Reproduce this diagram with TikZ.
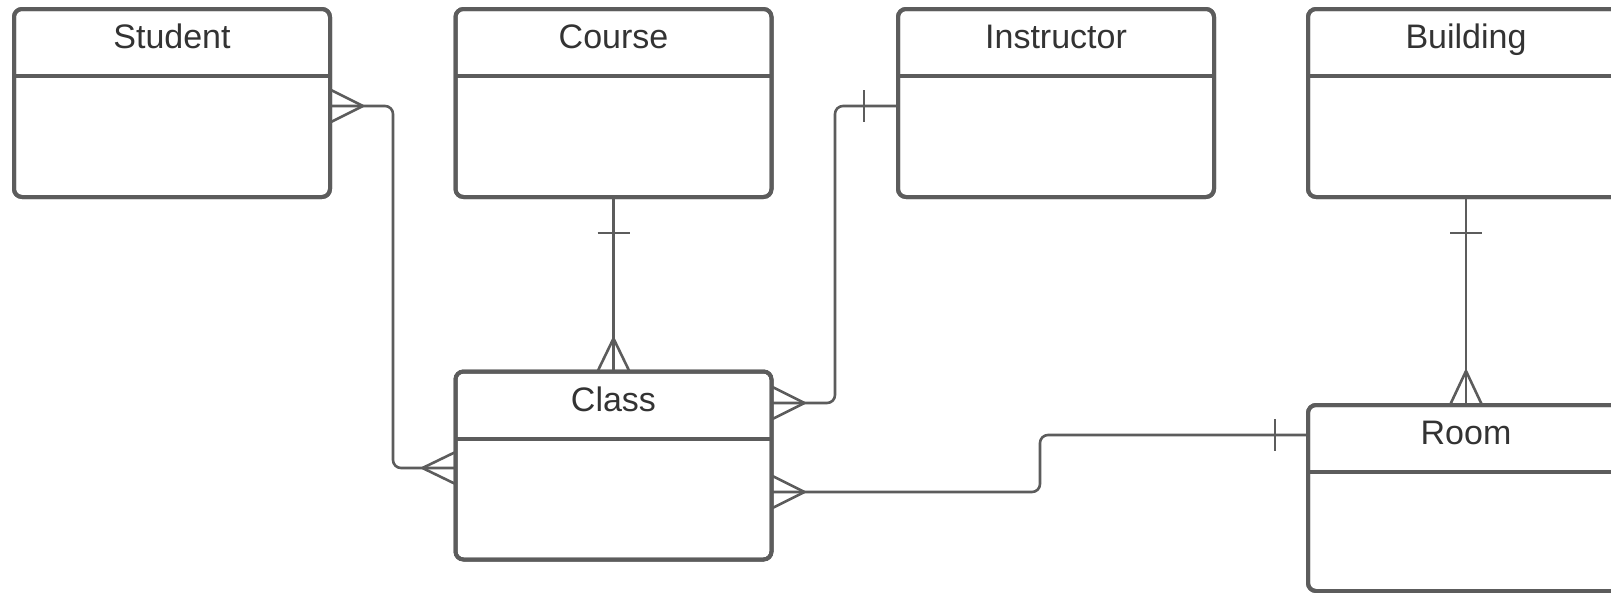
\documentclass[tikz,border=0pt]{standalone}
\usepackage{fontspec}
\setmainfont{Liberation Sans}
\usetikzlibrary{calc}
\definecolor{edgegray}{HTML}{5C5C5C}
\definecolor{textgray}{HTML}{333333}
\begin{document}
\begin{tikzpicture}[x=1pt,y=-1pt,
  entity/.style={draw=edgegray, line width=4pt, rounded corners=8pt, fill=white,
    minimum width=316pt, minimum height=188pt, inner sep=0pt, outer sep=0pt},
  etitle/.style={font=\fontsize{34}{40}\selectfont, text=textgray, anchor=base, inner sep=0pt},
  divider/.style={draw=edgegray, line width=4pt},
  conn/.style={draw=edgegray, line width=2.6pt, rounded corners=8pt},
  foot/.style={draw=edgegray, line width=2.6pt},
]
\useasboundingbox (0,0) rectangle (1611,592);
\clip (0,0) rectangle (1611,592);

% entity boxes (named, positioned by centre)
\path (172,103) node[entity] (student) {};
\path (613.5,103) node[entity] (course) {};
\path (1056,103) node[entity] (instructor) {};
\path (1466,103) node[entity] (building) {};
\path (613.5,465.5) node[entity] (class) {};
\path (1466,498) node[entity, minimum height=186pt] (room) {};

% connection points
\coordinate (sR) at ($(student.north east)+(0,97)$);
\coordinate (cL) at ($(class.north west)+(0,96.5)$);
\coordinate (cR1) at ($(class.north east)+(0,31.5)$);
\coordinate (cR2) at ($(class.north east)+(0,120.5)$);
\coordinate (iL) at ($(instructor.north west)+(0,97)$);
\coordinate (rL) at ($(room.north west)+(0,30)$);

% connectors
\draw[conn] (sR) -- ++(63,0) |- (cL);
\draw[conn] (course.south) -- (class.north);
\draw[conn] (iL) -- ++(-63,0) |- (cR1);
\draw[conn] (building.south) -- (room.north);
\draw[conn] (cR2) -- (1040,0 |- cR2) |- (rL);

% crow's feet (many)
\draw[foot] ($(sR)+(33,0)$) -- ($(sR)+(0,-16.5)$) ($(sR)+(33,0)$) -- ($(sR)+(0,16.5)$);
\draw[foot] ($(cL)+(-33,0)$) -- ($(cL)+(0,-16)$) ($(cL)+(-33,0)$) -- ($(cL)+(0,16)$);
\draw[foot] ($(cR1)+(33,0)$) -- ($(cR1)+(0,-16.5)$) ($(cR1)+(33,0)$) -- ($(cR1)+(0,16.5)$);
\draw[foot] ($(cR2)+(33,0)$) -- ($(cR2)+(0,-16.5)$) ($(cR2)+(33,0)$) -- ($(cR2)+(0,16.5)$);
\draw[foot] ($(class.north)+(0,-33)$) -- ($(class.north)+(-16,0)$) ($(class.north)+(0,-33)$) -- ($(class.north)+(16,0)$);
\draw[foot] ($(room.north)+(0,-34)$) -- ($(room.north)+(-16,0)$) ($(room.north)+(0,-34)$) -- ($(room.north)+(16,0)$);

% ticks (one)
\draw[foot] ($(course.south)+(-16,36)$) -- ($(course.south)+(16,36)$);
\draw[foot] ($(building.south)+(-16,36)$) -- ($(building.south)+(16,36)$);
\draw[foot] ($(iL)+(-34,-16)$) -- ($(iL)+(-34,16)$);
\draw[foot] ($(rL)+(-33,-16)$) -- ($(rL)+(-33,16)$);

% redraw boxes on top
\foreach \n in {student,course,instructor,building,class,room}{
  \draw[draw=edgegray, line width=4pt, rounded corners=8pt]
    (\n.north west) rectangle (\n.south east);
  \draw[divider] ($(\n.north west)+(0,67)$) -- ($(\n.north east)+(0,67)$);
}

% titles
\node[etitle] (student-t) at ($(student.north)+(0,39.5)$) {Student};
\node[etitle] (course-t) at ($(course.north)+(0,39.5)$) {Course};
\node[etitle] (instructor-t) at ($(instructor.north)+(0,39.5)$) {Instructor};
\node[etitle] (building-t) at ($(building.north)+(0,39.5)$) {Building};
\node[etitle] (class-t) at ($(class.north)+(0,39.5)$) {Class};
\node[etitle] (room-t) at ($(room.north)+(0,39.5)$) {Room};
\end{tikzpicture}
\end{document}
